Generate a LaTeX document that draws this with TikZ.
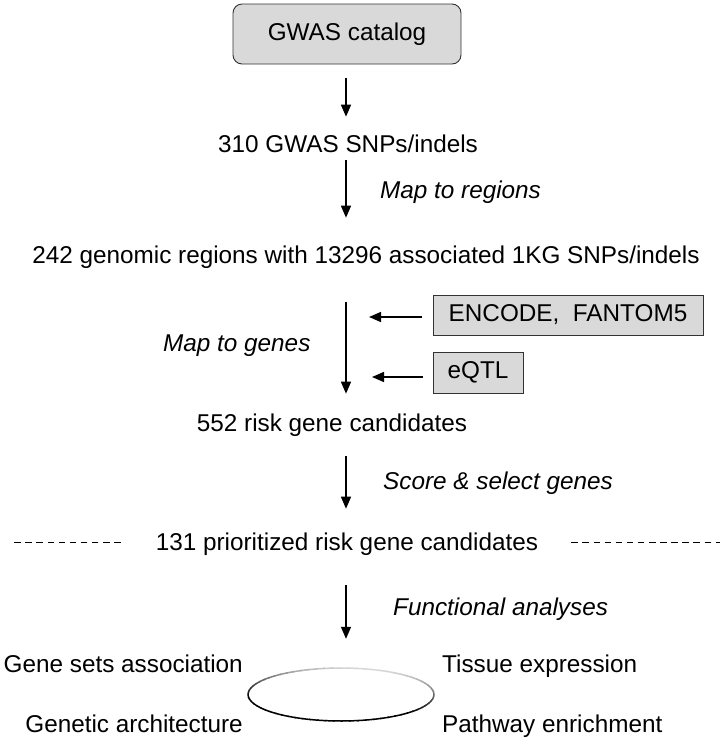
\documentclass[tikz,border=0pt]{standalone}
\usepackage{fontspec}
\setmainfont{Liberation Sans}
\usetikzlibrary{arrows.meta,calc,shapes.geometric}

\begin{document}
\fontsize{24.3}{29}\selectfont
\begin{tikzpicture}[x=1pt, y=-1pt,
	txt/.style={inner sep=0pt, anchor=base},
	note/.style={inner sep=0pt, anchor=base west, font=\itshape},
	srcbox/.style={draw=black!80, line width=0.9pt, fill=black!15},
	flow/.style={line width=1.4pt, -{Triangle[length=12pt, width=10pt]}},
	gap/.style={line width=1.3pt, dash pattern=on 6.5pt off 4.6pt}]
			%%%%% START %%%%%
			\useasboundingbox (0,0) rectangle (720,742);
			\coordinate (spine) at (346,0);
			
			\node[srcbox, rounded corners=9pt, minimum width=228pt, minimum height=60pt] (gwas) at (347,34) {GWAS catalog};
			
			\node[txt] (snps) at (348,152) {310 GWAS SNPs/indels};
			\node[txt] (regions) at (366,263) {242 genomic regions with 13296 associated 1KG SNPs/indels};
			\node[txt] (cands) at (332,431) {552 risk gene candidates};
			\node[txt] (prio) at (347,550) {131 prioritized risk gene candidates};
			
			\node[note] (step1) at (380,198) {Map to regions};
			\node[note] (step2) at (163,351) {Map to genes};
			\node[note] (step3) at (383,489) {Score \& select genes};
			\node[note] (step4) at (393,615) {Functional analyses};
			
			\node[srcbox, minimum width=270pt, minimum height=40pt] (encode) at (568,315) {ENCODE,\ \ FANTOM5};
			\node[srcbox, minimum width=90pt, minimum height=41pt] (eqtl) at (478,372.5) {eQTL};
			
			\draw[flow, shorten <=14pt, shorten >=17.5pt] (gwas.south -| spine) -- (snps.north -| spine);
			\draw[flow, shorten <=8pt, shorten >=27.5pt] (snps.south -| spine) -- (regions.north -| spine);
			\draw[flow, shorten <=34pt, shorten >=19.5pt] (regions.south -| spine) -- (cands.north -| spine);
			\draw[flow, shorten <=20pt, shorten >=23.5pt] (cands.south -| spine) -- (prio.north -| spine);
			
			\draw[flow, shorten <=11pt, shorten >=23pt] ([yshift=-2pt]encode.west) -- ([yshift=-2pt]encode.west -| spine);
			\draw[flow, shorten <=10pt, shorten >=26pt] ([yshift=-4.5pt]eqtl.west) -- ([yshift=-4.5pt]eqtl.west -| spine);
			
			\draw[gap] ([shift={(-35pt,1.5pt)}]prio.west) -- ([shift={(-142pt,1.5pt)}]prio.west);
			\draw[gap] ([shift={(33pt,1.5pt)}]prio.east) -- ([shift={(182pt,1.5pt)}]prio.east);
			
			% the ring, light on top and dark below
			\node[ellipse, minimum width=186pt, minimum height=53pt, inner sep=0pt] (hub) at (341,694.5) {};
			\foreach \a in {0,5,...,355}{
				\pgfmathsetmacro\shade{min(100,max(15,75-60*sin(\a+20)))}
				\draw[line width=1.5pt, black!\shade] ($(hub.center)+(\a:93pt and 26.5pt)$) arc[start angle=\a, end angle=\a+6, x radius=93pt, y radius=26.5pt];
			}
			\draw[flow, shorten <=30pt, shorten >=29pt] (prio.south -| spine) -- (hub.north -| spine);
			
			\node[txt, anchor=base east] (gsa) at (243,672) {Gene sets association};
			\node[txt, anchor=base east] (arch) at (243,732) {Genetic architecture};
			\node[txt, anchor=base west] (tissue) at (442,672) {Tissue expression};
			\node[txt, anchor=base west] (path) at (442,732) {Pathway enrichment};
			%%%%% END %%%%%
\end{tikzpicture}
\end{document}
